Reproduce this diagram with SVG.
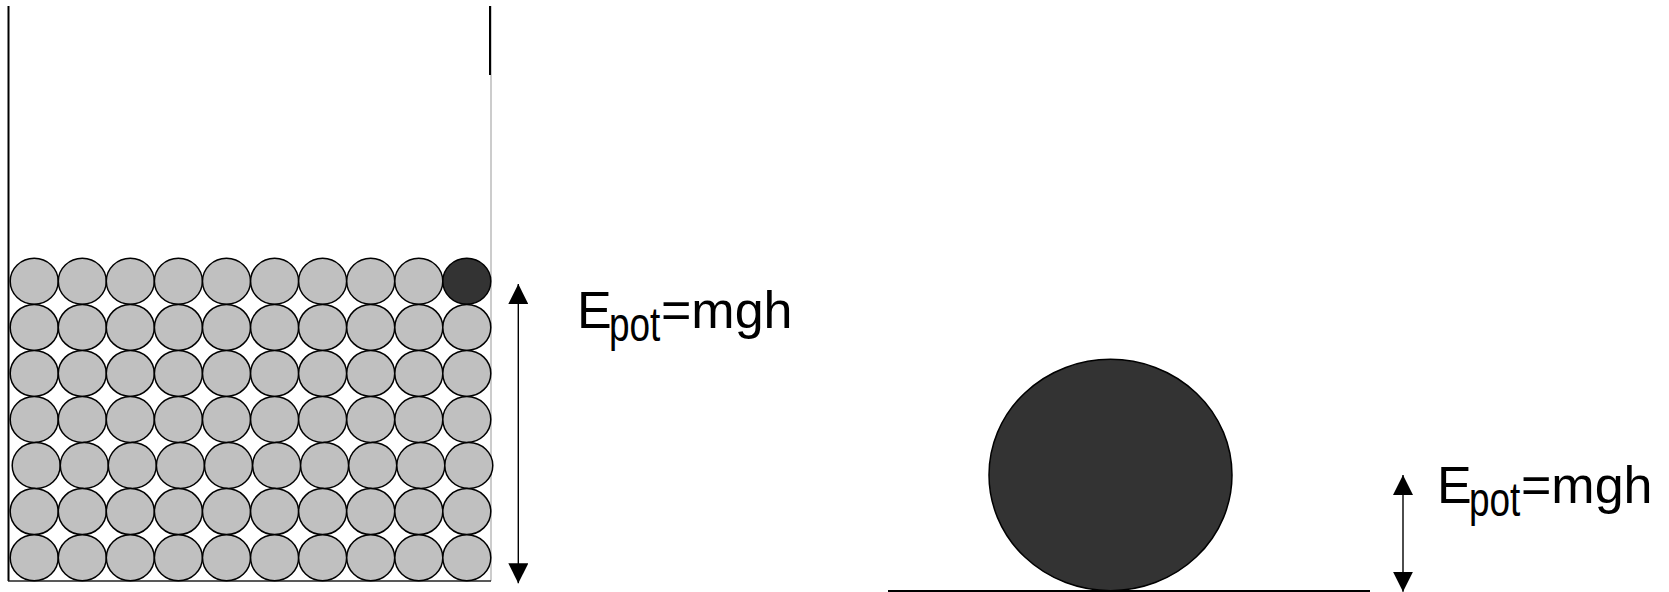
<svg xmlns="http://www.w3.org/2000/svg" width="1669" height="592" viewBox="0 0 1669 592">
<defs>
<style>
.ball{fill:#c0c0c0;stroke:#000;stroke-width:1.5}
.dark{fill:#333333;stroke:#000;stroke-width:1.5}
.lbl{font-family:"Liberation Sans",Arial,sans-serif;font-size:52px;fill:#000}
.sub{font-family:"Liberation Sans",Arial,sans-serif;font-size:48px;fill:#000}
.arr{stroke:#000;stroke-width:1.4;fill:none}
</style>
<marker id="ah" viewBox="0 0 20 20" refX="20" refY="10" markerWidth="20" markerHeight="20" markerUnits="userSpaceOnUse" orient="auto-start-reverse">
<path d="M0,0 L20,10 L0,20 Z" fill="#000"/>
</marker>
<ellipse id="b" rx="24" ry="23"/>
</defs>
<rect width="1669" height="592" fill="#fff"/>
<g id="container">
<line x1="8.5" y1="6" x2="8.5" y2="581" stroke="#000" stroke-width="2"/>
<line x1="491" y1="6" x2="491" y2="581" stroke="#999" stroke-width="1"/>
<line x1="490" y1="6" x2="490" y2="75" stroke="#000" stroke-width="2"/>
<line x1="8" y1="581" x2="491" y2="581" stroke="#222" stroke-width="1.5"/>
</g>
<g id="balls">
<g id="row1">
<use href="#b" class="ball" x="34.2" y="281.3"/><use href="#b" class="ball" x="82.3" y="281.3"/><use href="#b" class="ball" x="130.3" y="281.3"/><use href="#b" class="ball" x="178.4" y="281.3"/><use href="#b" class="ball" x="226.5" y="281.3"/><use href="#b" class="ball" x="274.6" y="281.3"/><use href="#b" class="ball" x="322.6" y="281.3"/><use href="#b" class="ball" x="370.7" y="281.3"/><use href="#b" class="ball" x="418.8" y="281.3"/><use href="#b" class="dark" x="466.8" y="281.3"/>
</g>
<g id="row2">
<use href="#b" class="ball" x="34.2" y="327.4"/><use href="#b" class="ball" x="82.3" y="327.4"/><use href="#b" class="ball" x="130.3" y="327.4"/><use href="#b" class="ball" x="178.4" y="327.4"/><use href="#b" class="ball" x="226.5" y="327.4"/><use href="#b" class="ball" x="274.6" y="327.4"/><use href="#b" class="ball" x="322.6" y="327.4"/><use href="#b" class="ball" x="370.7" y="327.4"/><use href="#b" class="ball" x="418.8" y="327.4"/><use href="#b" class="ball" x="466.8" y="327.4"/>
</g>
<g id="row3">
<use href="#b" class="ball" x="34.2" y="373.4"/><use href="#b" class="ball" x="82.3" y="373.4"/><use href="#b" class="ball" x="130.3" y="373.4"/><use href="#b" class="ball" x="178.4" y="373.4"/><use href="#b" class="ball" x="226.5" y="373.4"/><use href="#b" class="ball" x="274.6" y="373.4"/><use href="#b" class="ball" x="322.6" y="373.4"/><use href="#b" class="ball" x="370.7" y="373.4"/><use href="#b" class="ball" x="418.8" y="373.4"/><use href="#b" class="ball" x="466.8" y="373.4"/>
</g>
<g id="row4">
<use href="#b" class="ball" x="34.2" y="419.5"/><use href="#b" class="ball" x="82.3" y="419.5"/><use href="#b" class="ball" x="130.3" y="419.5"/><use href="#b" class="ball" x="178.4" y="419.5"/><use href="#b" class="ball" x="226.5" y="419.5"/><use href="#b" class="ball" x="274.6" y="419.5"/><use href="#b" class="ball" x="322.6" y="419.5"/><use href="#b" class="ball" x="370.7" y="419.5"/><use href="#b" class="ball" x="418.8" y="419.5"/><use href="#b" class="ball" x="466.8" y="419.5"/>
</g>
<g id="row5">
<use href="#b" class="ball" x="36.2" y="465.5"/><use href="#b" class="ball" x="84.3" y="465.5"/><use href="#b" class="ball" x="132.3" y="465.5"/><use href="#b" class="ball" x="180.4" y="465.5"/><use href="#b" class="ball" x="228.5" y="465.5"/><use href="#b" class="ball" x="276.6" y="465.5"/><use href="#b" class="ball" x="324.6" y="465.5"/><use href="#b" class="ball" x="372.7" y="465.5"/><use href="#b" class="ball" x="420.8" y="465.5"/><use href="#b" class="ball" x="468.8" y="465.5"/>
</g>
<g id="row6">
<use href="#b" class="ball" x="34.2" y="511.6"/><use href="#b" class="ball" x="82.3" y="511.6"/><use href="#b" class="ball" x="130.3" y="511.6"/><use href="#b" class="ball" x="178.4" y="511.6"/><use href="#b" class="ball" x="226.5" y="511.6"/><use href="#b" class="ball" x="274.6" y="511.6"/><use href="#b" class="ball" x="322.6" y="511.6"/><use href="#b" class="ball" x="370.7" y="511.6"/><use href="#b" class="ball" x="418.8" y="511.6"/><use href="#b" class="ball" x="466.8" y="511.6"/>
</g>
<g id="row7">
<use href="#b" class="ball" x="34.2" y="557.7"/><use href="#b" class="ball" x="82.3" y="557.7"/><use href="#b" class="ball" x="130.3" y="557.7"/><use href="#b" class="ball" x="178.4" y="557.7"/><use href="#b" class="ball" x="226.5" y="557.7"/><use href="#b" class="ball" x="274.6" y="557.7"/><use href="#b" class="ball" x="322.6" y="557.7"/><use href="#b" class="ball" x="370.7" y="557.7"/><use href="#b" class="ball" x="418.8" y="557.7"/><use href="#b" class="ball" x="466.8" y="557.7"/>
</g>
</g>
<g id="bigball">
<ellipse cx="1110.5" cy="475" rx="121.5" ry="115.7" fill="#333333" stroke="#000" stroke-width="1.5"/>
</g>
<g id="ground">
<line x1="888" y1="591" x2="1370" y2="591" stroke="#000" stroke-width="2"/>
</g>
<g id="connectors">
<line class="arr" x1="518.3" y1="284" x2="518.3" y2="583.3" marker-start="url(#ah)" marker-end="url(#ah)"/>
<line class="arr" x1="1403" y1="475" x2="1403" y2="591.7" marker-start="url(#ah)" marker-end="url(#ah)"/>
</g>
<g id="label-left">
<text class="lbl" x="577" y="327.5">E</text>
<text class="sub" transform="translate(609,341) scale(0.77,1)">pot</text>
<text class="lbl" x="661" y="327.5">=mgh</text>
</g>
<g id="label-right">
<text class="lbl" x="1437" y="502.5">E</text>
<text class="sub" transform="translate(1469,516) scale(0.77,1)">pot</text>
<text class="lbl" x="1521" y="502.5">=mgh</text>
</g>
</svg>
